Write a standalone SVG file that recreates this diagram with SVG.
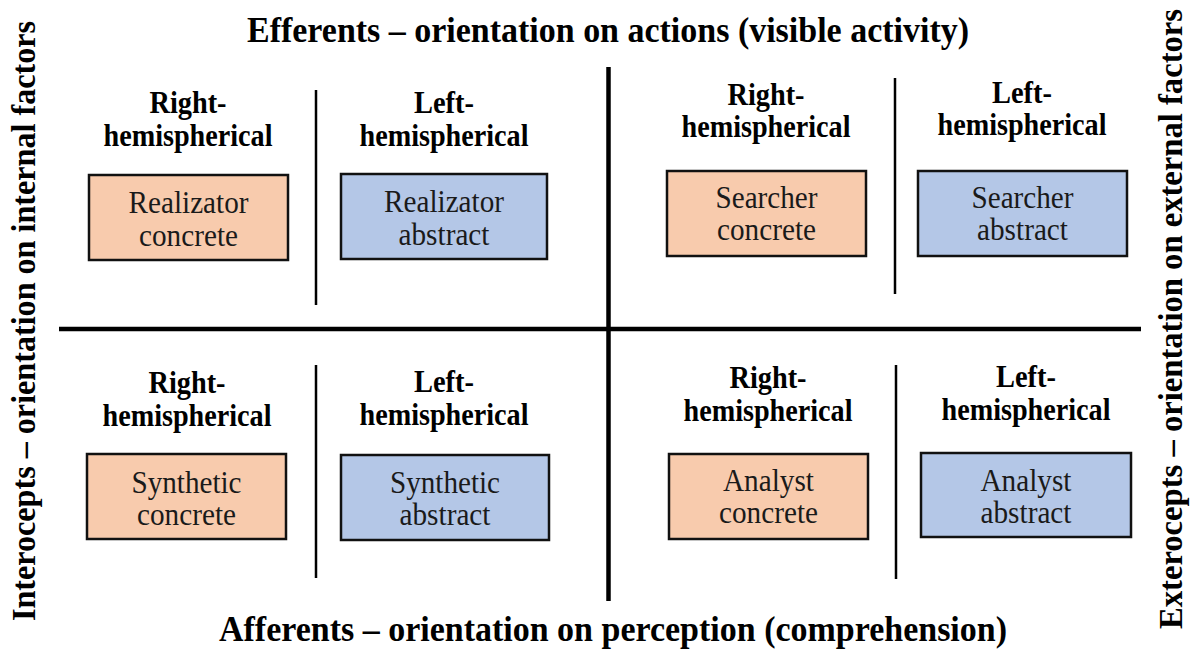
<svg xmlns="http://www.w3.org/2000/svg" width="1190" height="651" viewBox="0 0 1190 651">
<style>
.title{font-family:"Liberation Serif","Times New Roman",serif;font-weight:bold;font-size:35px;fill:#000;text-anchor:middle}
.side{font-family:"Liberation Serif","Times New Roman",serif;font-weight:bold;font-size:33px;fill:#000;text-anchor:middle}
.hdr{font-family:"Liberation Serif","Times New Roman",serif;font-weight:bold;font-size:30.5px;fill:#000;text-anchor:middle}
.lbl{font-family:"Liberation Serif","Times New Roman",serif;font-size:31.5px;fill:#1a1a1a;text-anchor:middle}
.conc{fill:#F8CBAD;stroke:#111;stroke-width:2.5}
.abst{fill:#B4C7E7;stroke:#111;stroke-width:2.5}
.axis{stroke:#000;stroke-width:4.5;fill:none}
.div{stroke:#000;stroke-width:2.5;fill:none}
</style>
<rect width="1190" height="651" fill="#fff"/>
<g id="connectors">
<line class="axis" x1="608.5" y1="67" x2="608.5" y2="601"/>
<line class="axis" x1="59" y1="329" x2="1141" y2="329"/>
<line class="div" x1="316" y1="90" x2="316" y2="305"/>
<line class="div" x1="895" y1="78" x2="895" y2="294"/>
<line class="div" x1="316" y1="365" x2="316" y2="578"/>
<line class="div" x1="896" y1="365" x2="896" y2="579"/>
</g>
<g id="axis-labels">
<text class="title" x="608" y="42" textLength="722" lengthAdjust="spacingAndGlyphs">Efferents – orientation on actions (visible activity)</text>
<text class="title" x="613" y="641" textLength="788" lengthAdjust="spacingAndGlyphs">Afferents – orientation on perception (comprehension)</text>
<text class="side" transform="translate(35,321) rotate(-90)" textLength="600" lengthAdjust="spacingAndGlyphs">Interocepts – orientation on internal factors</text>
<text class="side" transform="translate(1182,319) rotate(-90)" textLength="620" lengthAdjust="spacingAndGlyphs">Exterocepts – orientation on external factors</text>
</g>
<g id="headers">
<text class="hdr" x="188" y="113" textLength="77" lengthAdjust="spacingAndGlyphs">Right-</text><text class="hdr" x="188" y="146" textLength="169" lengthAdjust="spacingAndGlyphs">hemispherical</text>
<text class="hdr" x="444" y="113" textLength="60" lengthAdjust="spacingAndGlyphs">Left-</text><text class="hdr" x="444" y="146" textLength="169" lengthAdjust="spacingAndGlyphs">hemispherical</text>
<text class="hdr" x="766" y="105" textLength="77" lengthAdjust="spacingAndGlyphs">Right-</text><text class="hdr" x="766" y="137" textLength="169" lengthAdjust="spacingAndGlyphs">hemispherical</text>
<text class="hdr" x="1022" y="103" textLength="60" lengthAdjust="spacingAndGlyphs">Left-</text><text class="hdr" x="1022" y="135" textLength="169" lengthAdjust="spacingAndGlyphs">hemispherical</text>
<text class="hdr" x="187" y="393" textLength="77" lengthAdjust="spacingAndGlyphs">Right-</text><text class="hdr" x="187" y="426" textLength="169" lengthAdjust="spacingAndGlyphs">hemispherical</text>
<text class="hdr" x="444" y="392" textLength="60" lengthAdjust="spacingAndGlyphs">Left-</text><text class="hdr" x="444" y="425" textLength="169" lengthAdjust="spacingAndGlyphs">hemispherical</text>
<text class="hdr" x="768" y="388" textLength="77" lengthAdjust="spacingAndGlyphs">Right-</text><text class="hdr" x="768" y="421" textLength="169" lengthAdjust="spacingAndGlyphs">hemispherical</text>
<text class="hdr" x="1026" y="387" textLength="60" lengthAdjust="spacingAndGlyphs">Left-</text><text class="hdr" x="1026" y="420" textLength="169" lengthAdjust="spacingAndGlyphs">hemispherical</text>
</g>
<g id="realizator-concrete">
<rect class="conc" x="89" y="175" width="199" height="85"/>
<text class="lbl" x="188.5" y="213" textLength="120" lengthAdjust="spacingAndGlyphs">Realizator</text><text class="lbl" x="188.5" y="246" textLength="99" lengthAdjust="spacingAndGlyphs">concrete</text>
</g>
<g id="realizator-abstract">
<rect class="abst" x="341" y="174" width="206" height="85"/>
<text class="lbl" x="444" y="212" textLength="120" lengthAdjust="spacingAndGlyphs">Realizator</text><text class="lbl" x="444" y="245" textLength="91" lengthAdjust="spacingAndGlyphs">abstract</text>
</g>
<g id="searcher-concrete">
<rect class="conc" x="667" y="171" width="199" height="85"/>
<text class="lbl" x="766.5" y="208" textLength="102" lengthAdjust="spacingAndGlyphs">Searcher</text><text class="lbl" x="766.5" y="240" textLength="99" lengthAdjust="spacingAndGlyphs">concrete</text>
</g>
<g id="searcher-abstract">
<rect class="abst" x="918" y="171" width="209" height="85"/>
<text class="lbl" x="1022.5" y="208" textLength="102" lengthAdjust="spacingAndGlyphs">Searcher</text><text class="lbl" x="1022.5" y="240" textLength="91" lengthAdjust="spacingAndGlyphs">abstract</text>
</g>
<g id="synthetic-concrete">
<rect class="conc" x="87" y="454" width="199" height="85"/>
<text class="lbl" x="186.5" y="493" textLength="110" lengthAdjust="spacingAndGlyphs">Synthetic</text><text class="lbl" x="186.5" y="525" textLength="99" lengthAdjust="spacingAndGlyphs">concrete</text>
</g>
<g id="synthetic-abstract">
<rect class="abst" x="341" y="455" width="208" height="85"/>
<text class="lbl" x="445" y="493" textLength="110" lengthAdjust="spacingAndGlyphs">Synthetic</text><text class="lbl" x="445" y="525" textLength="91" lengthAdjust="spacingAndGlyphs">abstract</text>
</g>
<g id="analyst-concrete">
<rect class="conc" x="669" y="454" width="199" height="85"/>
<text class="lbl" x="768.5" y="491" textLength="91" lengthAdjust="spacingAndGlyphs">Analyst</text><text class="lbl" x="768.5" y="523" textLength="99" lengthAdjust="spacingAndGlyphs">concrete</text>
</g>
<g id="analyst-abstract">
<rect class="abst" x="921" y="453" width="210" height="84"/>
<text class="lbl" x="1026" y="491" textLength="91" lengthAdjust="spacingAndGlyphs">Analyst</text><text class="lbl" x="1026" y="523" textLength="91" lengthAdjust="spacingAndGlyphs">abstract</text>
</g>
</svg>
